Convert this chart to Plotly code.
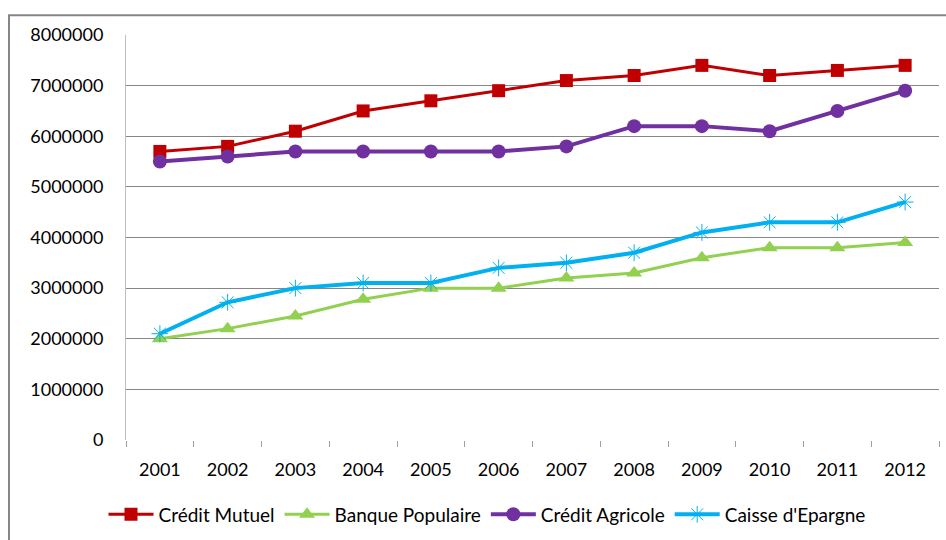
import plotly.graph_objects as go

years = ["2001", "2002", "2003", "2004", "2005", "2006", "2007", "2008", "2009", "2010", "2011", "2012"]
credit_mutuel = [5700000, 5800000, 6100000, 6500000, 6700000, 6900000, 7100000, 7200000, 7400000, 7200000, 7300000, 7400000]
banque_populaire = [2000000, 2200000, 2450000, 2780000, 3000000, 3000000, 3200000, 3300000, 3600000, 3800000, 3800000, 3900000]
credit_agricole = [5500000, 5600000, 5700000, 5700000, 5700000, 5700000, 5800000, 6200000, 6200000, 6100000, 6500000, 6900000]
caisse_epargne = [2100000, 2720000, 3000000, 3100000, 3100000, 3400000, 3500000, 3700000, 4100000, 4300000, 4300000, 4700000]
y_ticks = [0, 1000000, 2000000, 3000000, 4000000, 5000000, 6000000, 7000000, 8000000]

series = [
    ("Crédit Mutuel", credit_mutuel, "#C00000", "square", 13, 3),
    ("Banque Populaire", banque_populaire, "#92D050", "triangle-up", 14, 3),
    ("Crédit Agricole", credit_agricole, "#7030A0", "circle", 14, 4),
    ("Caisse d'Epargne", caisse_epargne, "#00B0F0", "asterisk-open", 14, 4),
]

fig = go.Figure()
for name, vals, color, sym, size, lw in series:
    marker = dict(symbol=sym, size=size, color=color)
    if sym == "asterisk-open":
        marker["line"] = dict(color="#45C4F5", width=1)
    fig.add_trace(go.Scatter(
        x=years, y=vals, name=name, mode="lines+markers",
        line=dict(color=color, width=lw),
        marker=marker,
    ))

W, H = 946, 540
L, R, T, B = 126, 7, 35, 97
pw = W - L - R
ph = H - T - B

fig.add_shape(type="rect", xref="paper", yref="paper",
              x0=(9 - L) / pw, x1=(W + 10 - L) / pw,
              y0=-(H + 10 - (H - B)) / ph, y1=((H - B) - 15) / ph,
              line=dict(color="#868686", width=2), fillcolor="rgba(0,0,0,0)", layer="below")

fig.update_layout(
    width=W, height=H,
    margin=dict(l=L, r=R, t=T, b=B),
    paper_bgcolor="white", plot_bgcolor="white",
    font=dict(family="Lato, 'Open Sans', sans-serif", size=18, color="#000000"),
    showlegend=True,
    legend=dict(orientation="h", x=(487 - L) / pw, xanchor="center",
                y=-(518 - (H - B)) / ph, yanchor="middle",
                font=dict(size=19), itemwidth=45, tracegroupgap=0),
    xaxis=dict(
        type="category", range=[-0.5, 11.5],
        showgrid=False, showline=False, zeroline=False,
        ticks="outside", tickson="boundaries", ticklen=6, tickcolor="#A0A0A0",
        ticklabelstandoff=17,
        tickfont=dict(size=18),
    ),
    yaxis=dict(
        range=[0, 8000000], tickvals=y_ticks, tickformat="d",
        showgrid=True, gridcolor="#868686", gridwidth=1,
        showline=True, linecolor="#BFBFBF", linewidth=1,
        zeroline=False, ticks="", ticklabelstandoff=18,
        tickfont=dict(size=18),
    ),
)

fig.write_html("out.html")
